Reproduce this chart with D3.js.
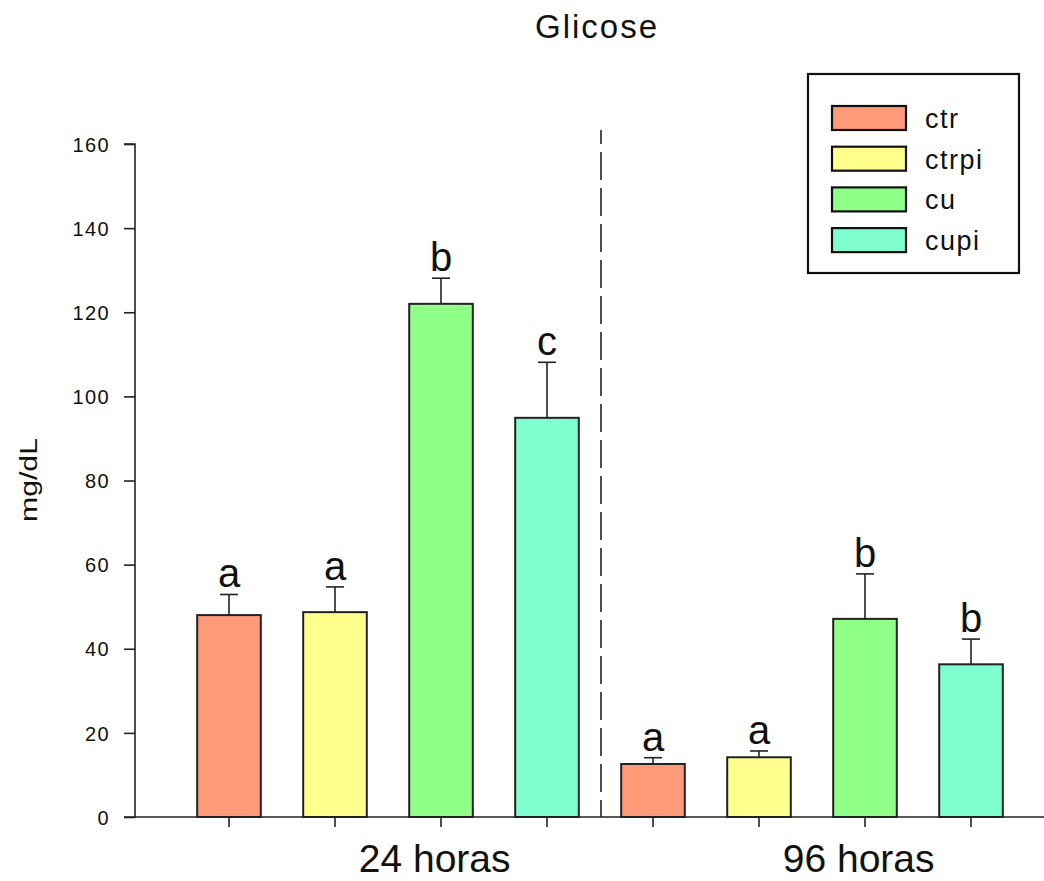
<!DOCTYPE html>
<html>
<head>
<meta charset="utf-8">
<script src="https://cdn.jsdelivr.net/npm/d3@7"></script>
<style>
  html, body { margin: 0; padding: 0; background: #fff; }
  svg { display: block; }
  text { font-family: "Liberation Sans", Arial, sans-serif; fill: #111; }
</style>
</head>
<body>
<svg id="chart" width="1044" height="881"></svg>
<script>
// Glucose (mg/dL) at 24 and 96 hours, mean ± SE for each treatment
const groups = ["24 horas", "96 horas"];
const series = ["ctr", "ctrpi", "cu", "cupi"];
const means24 = [48.0, 48.7, 122.0, 94.9];
const se24 = [4.9, 6.0, 6.1, 13.2];
const letters24 = ["a", "a", "b", "c"];
const means96 = [12.6, 14.2, 47.1, 36.3];
const se96 = [1.5, 1.5, 10.7, 6.0];
const letters96 = ["a", "a", "b", "b"];
const yTicks = [0, 20, 40, 60, 80, 100, 120, 140, 160];
const colors = ["#ff9b78", "#ffff8e", "#90ff88", "#7fffd0"];

const rows = [
  ...series.map((s, i) => ({ group: groups[0], series: s, mean: means24[i], se: se24[i], letter: letters24[i] })),
  ...series.map((s, i) => ({ group: groups[1], series: s, mean: means96[i], se: se96[i], letter: letters96[i] }))
];

const svg = d3.select("#chart");
const axisX = 135, baseY = 817;

const y = d3.scaleLinear().domain([0, 160]).range([baseY, 144]);
const outer = d3.scaleBand().domain(groups).range([176, 1024]);
const inner = d3.scaleBand().domain(series).range([0, outer.bandwidth()]).paddingInner(0.4).paddingOuter(0.2);
const color = d3.scaleOrdinal().domain(series).range(colors);
const cx = d => outer(d.group) + inner(d.series) + inner.bandwidth() / 2;

// title
svg.append("text")
  .attr("x", 597).attr("y", 38)
  .attr("text-anchor", "middle")
  .style("font-size", "33px").style("letter-spacing", "2px")
  .text("Glicose");

// y axis
const yAxis = svg.append("g")
  .attr("transform", `translate(${axisX},0)`)
  .call(d3.axisLeft(y).tickValues(yTicks).tickSize(11).tickPadding(14));
yAxis.select(".domain").attr("stroke", "#222").attr("stroke-width", 1.6).attr("d", `M-11,${y(160)}H0V${baseY}H-11`);
yAxis.selectAll(".tick line").attr("stroke", "#222").attr("stroke-width", 1.6);
yAxis.selectAll(".tick text")
  .style("font-size", "20px").style("letter-spacing", "1.4px")
  .style("font-family", "'Liberation Sans', Arial, sans-serif")
  .attr("fill", "#222").attr("dy", "0.36em");

svg.append("text")
  .attr("transform", `translate(37,${480}) rotate(-90)`)
  .attr("text-anchor", "middle")
  .attr("textLength", 84).attr("lengthAdjust", "spacingAndGlyphs")
  .style("font-size", "23px")
  .text("mg/dL");

// x axis baseline and category ticks
svg.append("line")
  .attr("x1", axisX).attr("x2", 1044).attr("y1", baseY).attr("y2", baseY)
  .attr("stroke", "#222").attr("stroke-width", 1.6);
svg.append("g").selectAll("line").data(rows).join("line")
  .attr("x1", cx).attr("x2", cx)
  .attr("y1", baseY).attr("y2", baseY + 10)
  .attr("stroke", "#222").attr("stroke-width", 1.6);

// group labels
svg.append("g").selectAll("text").data(groups).join("text")
  .attr("x", g => outer(g) + outer.bandwidth() * 0.61)
  .attr("y", 872)
  .attr("text-anchor", "middle")
  .style("font-size", "39px")
  .text(g => g);

// dashed separator between time points
svg.append("line")
  .attr("x1", outer(groups[1]) + 1).attr("x2", outer(groups[1]) + 1)
  .attr("y1", 130).attr("y2", baseY)
  .attr("stroke", "#222").attr("stroke-width", 1.6)
  .attr("stroke-dasharray", "28,8").attr("stroke-dashoffset", 14);

// error bars (upper only)
const eb = svg.append("g").selectAll("g").data(rows).join("g");
eb.append("line")
  .attr("x1", cx).attr("x2", cx)
  .attr("y1", d => y(d.mean)).attr("y2", d => y(d.mean + d.se))
  .attr("stroke", "#222").attr("stroke-width", 1.6);
eb.append("line")
  .attr("x1", d => cx(d) - 9).attr("x2", d => cx(d) + 9)
  .attr("y1", d => y(d.mean + d.se)).attr("y2", d => y(d.mean + d.se))
  .attr("stroke", "#222").attr("stroke-width", 1.6);

// bars
svg.append("g").selectAll("rect").data(rows).join("rect")
  .attr("x", d => outer(d.group) + inner(d.series))
  .attr("width", inner.bandwidth())
  .attr("y", d => y(d.mean))
  .attr("height", d => baseY - y(d.mean))
  .attr("fill", d => color(d.series))
  .attr("stroke", "#222").attr("stroke-width", 2);

// significance letters
svg.append("g").selectAll("text").data(rows).join("text")
  .attr("x", cx)
  .attr("y", d => y(d.mean + d.se) - 7)
  .attr("text-anchor", "middle")
  .style("font-size", "40px")
  .text(d => d.letter);

// legend
const legend = svg.append("g");
legend.append("rect")
  .attr("x", 808).attr("y", 74).attr("width", 211).attr("height", 199)
  .attr("fill", "#fff").attr("stroke", "#111").attr("stroke-width", 2.2);
const item = legend.selectAll("g.item").data(series).join("g")
  .attr("class", "item")
  .attr("transform", (s, i) => `translate(832,${106 + i * 40.7})`);
item.append("rect")
  .attr("width", 74).attr("height", 24)
  .attr("fill", s => color(s))
  .attr("stroke", "#111").attr("stroke-width", 2.2);
item.append("text")
  .attr("x", 93).attr("y", 22)
  .style("font-size", "27px").style("letter-spacing", "1.5px")
  .text(s => s);
</script>
</body>
</html>
